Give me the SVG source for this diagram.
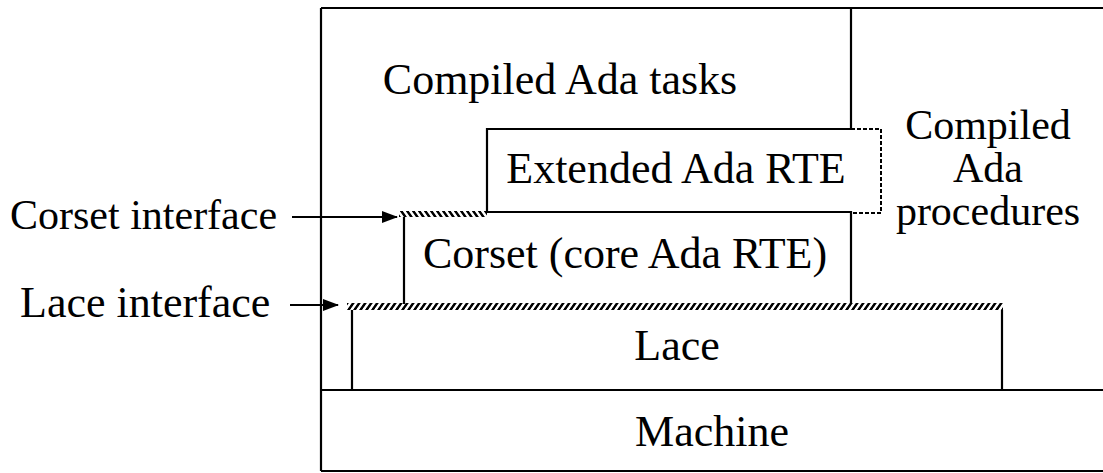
<svg xmlns="http://www.w3.org/2000/svg" width="1103" height="473" viewBox="0 0 1103 473">
<style>
text{font-family:"Liberation Serif","Times New Roman",serif;font-size:44px;fill:#000}
.l{stroke:#000;stroke-width:2.2;fill:none}
.d{stroke:#000;stroke-width:2;fill:none;stroke-dasharray:4 2}
.c{text-anchor:middle}
.s{font-size:42px}
</style>
<defs>
<pattern id="hb" patternUnits="userSpaceOnUse" width="6" height="7" patternTransform="skewX(35)">
<rect x="0" y="0" width="3" height="7" fill="#000"/>
</pattern>
<pattern id="hf" patternUnits="userSpaceOnUse" width="6" height="7" patternTransform="skewX(-35)">
<rect x="0" y="0" width="3" height="7" fill="#000"/>
</pattern>
<marker id="ah" markerWidth="16" markerHeight="12" refX="15" refY="6" orient="auto" markerUnits="userSpaceOnUse">
<path d="M0,0 L16,6 L0,12 Z" fill="#000"/>
</marker>
</defs>
<g id="machine">
<path class="l" d="M321,390 H1103 M321,471 H1103"/>
<text class="c" x="712" y="446">Machine</text>
</g>
<g id="lace">
<rect x="347" y="303" width="656" height="7" fill="url(#hf)"/>
<path class="l" d="M352,310 V390 M1002,310 V390"/>
<text class="c" x="677" y="360">Lace</text>
</g>
<g id="corset">
<rect x="399" y="211" width="88" height="6" fill="url(#hb)"/>
<path class="l" d="M404,217 V304 M487,212 H851 V304"/>
<text class="c" x="625" y="268">Corset (core Ada RTE)</text>
</g>
<g id="extended">
<path class="l" d="M487,212 V129 H851"/>
<path class="d" d="M851,129 H881 V213 H851"/>
<text class="c" x="676" y="183">Extended Ada RTE</text>
</g>
<g id="tasks">
<path class="l" d="M321,8 H1103 M321,8 V471 M851,8 V129"/>
<text class="c" x="560" y="94">Compiled Ada tasks</text>
</g>
<g id="procedures">
<text class="c s" x="988" y="139">Compiled</text>
<text class="c s" x="988" y="182">Ada</text>
<text class="c s" x="988" y="225">procedures</text>
</g>
<g id="connectors">
<path class="l" d="M292,217 H397" marker-end="url(#ah)"/>
<path class="l" d="M290,305 H338" marker-end="url(#ah)"/>
</g>
<g id="labels">
<text class="s" x="10" y="229">Corset interface</text>
<text x="20" y="317">Lace interface</text>
</g>
</svg>
